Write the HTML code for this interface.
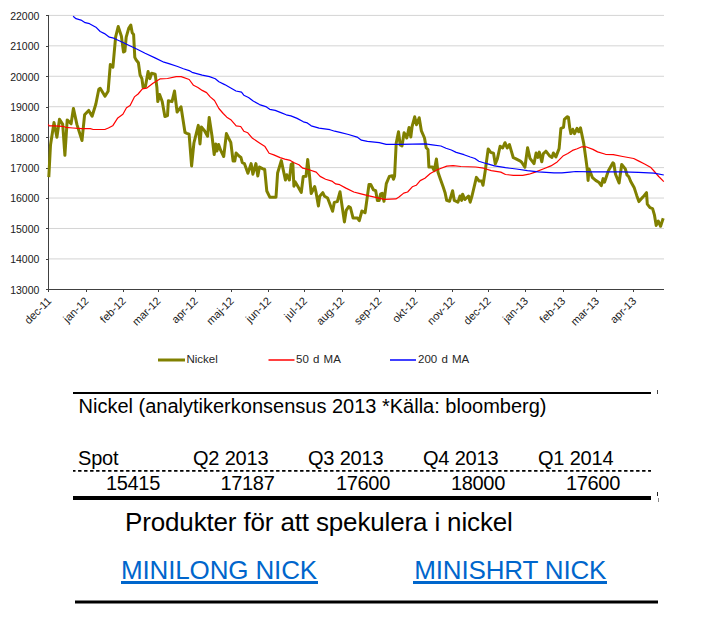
<!DOCTYPE html>
<html><head><meta charset="utf-8"><style>
html,body{margin:0;padding:0;background:#fff;}
body{width:702px;height:622px;overflow:hidden;}
svg{display:block;}
.ax{font-family:"Liberation Sans",sans-serif;font-size:10.5px;fill:#1a1a1a;}
.xl{font-family:"Liberation Sans",sans-serif;font-size:11px;fill:#1a1a1a;}
.lg{font-family:"Liberation Sans",sans-serif;font-size:11.5px;fill:#262626;word-spacing:1px;}
.tt{font-family:"Liberation Sans",sans-serif;font-size:20px;fill:#000;}
.big{font-family:"Liberation Sans",sans-serif;font-size:26px;fill:#000;letter-spacing:-0.15px;}
.lnk{fill:#0066cc;}
</style></head><body>
<svg width="702" height="622" viewBox="0 0 702 622">
<line x1="48" y1="15.40" x2="664" y2="15.40" stroke="#d4d4d4" stroke-width="1"/>
<line x1="48" y1="45.84" x2="664" y2="45.84" stroke="#d4d4d4" stroke-width="1"/>
<line x1="48" y1="76.28" x2="664" y2="76.28" stroke="#d4d4d4" stroke-width="1"/>
<line x1="48" y1="106.72" x2="664" y2="106.72" stroke="#d4d4d4" stroke-width="1"/>
<line x1="48" y1="137.16" x2="664" y2="137.16" stroke="#d4d4d4" stroke-width="1"/>
<line x1="48" y1="167.60" x2="664" y2="167.60" stroke="#d4d4d4" stroke-width="1"/>
<line x1="48" y1="198.04" x2="664" y2="198.04" stroke="#d4d4d4" stroke-width="1"/>
<line x1="48" y1="228.48" x2="664" y2="228.48" stroke="#d4d4d4" stroke-width="1"/>
<line x1="48" y1="258.92" x2="664" y2="258.92" stroke="#d4d4d4" stroke-width="1"/>
<line x1="48.5" y1="15" x2="48.5" y2="292" stroke="#404040" stroke-width="1"/>
<line x1="46" y1="289.5" x2="664" y2="289.5" stroke="#404040" stroke-width="1"/>
<line x1="46" y1="15.5" x2="48" y2="15.5" stroke="#404040" stroke-width="1"/>
<line x1="46" y1="46.5" x2="48" y2="46.5" stroke="#404040" stroke-width="1"/>
<line x1="46" y1="76.5" x2="48" y2="76.5" stroke="#404040" stroke-width="1"/>
<line x1="46" y1="107.5" x2="48" y2="107.5" stroke="#404040" stroke-width="1"/>
<line x1="46" y1="137.5" x2="48" y2="137.5" stroke="#404040" stroke-width="1"/>
<line x1="46" y1="168.5" x2="48" y2="168.5" stroke="#404040" stroke-width="1"/>
<line x1="46" y1="198.5" x2="48" y2="198.5" stroke="#404040" stroke-width="1"/>
<line x1="46" y1="228.5" x2="48" y2="228.5" stroke="#404040" stroke-width="1"/>
<line x1="46" y1="259.5" x2="48" y2="259.5" stroke="#404040" stroke-width="1"/>
<line x1="86.5" y1="289.5" x2="86.5" y2="292" stroke="#404040" stroke-width="1"/>
<line x1="123.5" y1="289.5" x2="123.5" y2="292" stroke="#404040" stroke-width="1"/>
<line x1="158.5" y1="289.5" x2="158.5" y2="292" stroke="#404040" stroke-width="1"/>
<line x1="195.5" y1="289.5" x2="195.5" y2="292" stroke="#404040" stroke-width="1"/>
<line x1="231.5" y1="289.5" x2="231.5" y2="292" stroke="#404040" stroke-width="1"/>
<line x1="268.5" y1="289.5" x2="268.5" y2="292" stroke="#404040" stroke-width="1"/>
<line x1="304.5" y1="289.5" x2="304.5" y2="292" stroke="#404040" stroke-width="1"/>
<line x1="342.5" y1="289.5" x2="342.5" y2="292" stroke="#404040" stroke-width="1"/>
<line x1="379.5" y1="289.5" x2="379.5" y2="292" stroke="#404040" stroke-width="1"/>
<line x1="415.5" y1="289.5" x2="415.5" y2="292" stroke="#404040" stroke-width="1"/>
<line x1="452.5" y1="289.5" x2="452.5" y2="292" stroke="#404040" stroke-width="1"/>
<line x1="488.5" y1="289.5" x2="488.5" y2="292" stroke="#404040" stroke-width="1"/>
<line x1="525.5" y1="289.5" x2="525.5" y2="292" stroke="#404040" stroke-width="1"/>
<line x1="563.5" y1="289.5" x2="563.5" y2="292" stroke="#404040" stroke-width="1"/>
<line x1="596.5" y1="289.5" x2="596.5" y2="292" stroke="#404040" stroke-width="1"/>
<line x1="633.5" y1="289.5" x2="633.5" y2="292" stroke="#404040" stroke-width="1"/>
<text x="39.4" y="19.7" text-anchor="end" class="ax">22000</text>
<text x="39.4" y="50.1" text-anchor="end" class="ax">21000</text>
<text x="39.4" y="80.6" text-anchor="end" class="ax">20000</text>
<text x="39.4" y="111.0" text-anchor="end" class="ax">19000</text>
<text x="39.4" y="141.5" text-anchor="end" class="ax">18000</text>
<text x="39.4" y="171.9" text-anchor="end" class="ax">17000</text>
<text x="39.4" y="202.3" text-anchor="end" class="ax">16000</text>
<text x="39.4" y="232.8" text-anchor="end" class="ax">15000</text>
<text x="39.4" y="263.2" text-anchor="end" class="ax">14000</text>
<text x="39.4" y="293.7" text-anchor="end" class="ax">13000</text>
<text x="52.1" y="301.6" text-anchor="end" class="xl" transform="rotate(-45 52.1 301.6)">dec-11</text>
<text x="89.3" y="301.6" text-anchor="end" class="xl" transform="rotate(-45 89.3 301.6)">jan-12</text>
<text x="126.6" y="301.6" text-anchor="end" class="xl" transform="rotate(-45 126.6 301.6)">feb-12</text>
<text x="161.4" y="301.6" text-anchor="end" class="xl" transform="rotate(-45 161.4 301.6)">mar-12</text>
<text x="198.6" y="301.6" text-anchor="end" class="xl" transform="rotate(-45 198.6 301.6)">apr-12</text>
<text x="234.7" y="301.6" text-anchor="end" class="xl" transform="rotate(-45 234.7 301.6)">maj-12</text>
<text x="271.9" y="301.6" text-anchor="end" class="xl" transform="rotate(-45 271.9 301.6)">jun-12</text>
<text x="307.9" y="301.6" text-anchor="end" class="xl" transform="rotate(-45 307.9 301.6)">jul-12</text>
<text x="345.1" y="301.6" text-anchor="end" class="xl" transform="rotate(-45 345.1 301.6)">aug-12</text>
<text x="382.4" y="301.6" text-anchor="end" class="xl" transform="rotate(-45 382.4 301.6)">sep-12</text>
<text x="418.4" y="301.6" text-anchor="end" class="xl" transform="rotate(-45 418.4 301.6)">okt-12</text>
<text x="455.6" y="301.6" text-anchor="end" class="xl" transform="rotate(-45 455.6 301.6)">nov-12</text>
<text x="491.7" y="301.6" text-anchor="end" class="xl" transform="rotate(-45 491.7 301.6)">dec-12</text>
<text x="528.9" y="301.6" text-anchor="end" class="xl" transform="rotate(-45 528.9 301.6)">jan-13</text>
<text x="566.1" y="301.6" text-anchor="end" class="xl" transform="rotate(-45 566.1 301.6)">feb-13</text>
<text x="599.8" y="301.6" text-anchor="end" class="xl" transform="rotate(-45 599.8 301.6)">mar-13</text>
<text x="637.0" y="301.6" text-anchor="end" class="xl" transform="rotate(-45 637.0 301.6)">apr-13</text>
<polyline points="48.8,177.2 50.5,145 54,122.5 56.9,137.3 59.5,119.3 62.7,124.4 64.9,155.3 67.2,119.9 71.1,123.8 73.4,108.4 76.9,124.4 82,140.5 84.6,114.8 88.7,110.4 92.1,116.2 95.8,104.2 98.8,89.2 100.2,88.3 105,96.3 108.1,91.3 110.3,64.5 112.9,67.1 115.6,37.1 118.2,26.5 121.4,36.2 123.5,52.1 124.9,51.2 126.2,37.1 128.7,28.3 130.8,25 132.2,32.7 133.6,34.4 134.8,57.4 136.2,60 138.4,62.7 140.1,75 141.9,78.6 143.1,87.4 145.4,86.6 148.1,71.5 149.9,78.6 151.6,73.3 155.2,74.2 156.9,87.4 157.8,101.6 159.6,94.5 162.2,101.6 164.9,116.6 167.5,115.7 168.4,100.7 172,101.6 174.5,91 177.1,112.1 181,106.8 185,132.4 186.8,133.3 189.1,134.2 191.6,166 193.9,143 198.3,125.4 200,143.9 201.4,127.1 204.5,130.7 207.6,136.3 209.2,117.4 212,136 214.2,154.5 215.8,144 217,151 218.6,144.5 220.7,150.4 223.7,156.5 226.4,133.6 228.5,138 230.8,142.4 233.1,161 234.8,161 236.1,153 238.7,155.7 240.9,157.4 242.3,162.7 244.4,163.6 247.9,173.3 251.1,163.6 252.9,174.2 255.9,163.6 257.8,176 259.5,167 262.4,168.6 264.7,169.5 266.8,191 269.8,197.2 276,197.2 277.6,173 281.3,160.6 285.4,180 286.8,174.8 289.4,180 291.2,164.2 292.8,163.3 293.9,186.3 295.1,181.8 297.8,186.3 301.3,192.4 303.2,176.6 306,176.3 307.7,159.5 309.1,171.5 311.2,193.6 314.7,186.5 316.1,192.7 318.4,206 319.7,196.3 322.8,192.7 324.6,196.3 327.6,198 332.6,211.3 334.3,202.4 337.3,201.6 340,191.8 344.4,221.9 346.2,210.4 348.7,206.6 350.4,207.5 353.1,218.1 357.5,218.1 359.3,220.7 361.9,211 363.7,211.9 365.1,212.8 369,184.5 370.7,184.5 373.4,189.8 375.7,190.7 377.4,200.4 379.2,200.4 380.5,194.2 382.2,193.3 384,201.3 386.3,183.6 389.3,176.5 392.3,175.7 393.5,179.3 394.6,176 396.2,143.3 398.5,131.8 400.2,145 402,145.9 404.1,132.7 406.8,138 409.1,127.4 410.8,137.1 412.1,126.5 414.7,116.8 416.5,124.7 419.2,117.7 421.4,130.9 424.5,138 426.2,147.7 428,149.5 428.9,167.1 432.4,167.1 434.2,170.7 436.4,159 438,172.2 440.7,180.1 443.2,187.1 445,192.4 446.7,200.4 449.5,201.3 452.6,190.7 454.3,200.4 457.9,202.2 460,196 461.7,200.4 462.6,194.2 464.9,199.5 468.5,196 470.2,202.2 472,196 476.4,177.4 479.1,181 481.7,181 483,185.2 485.1,171.8 488.2,148.9 490.7,152.4 493.5,153.3 495.3,163.9 497.4,158.6 500.1,146.2 502.7,148 505,142.7 507.2,148 509.4,144.5 511.2,150.6 513.3,157.7 515.5,158.6 520.4,161.2 522,162.7 524.9,167.3 527.6,147.8 530,158.3 534,163.6 536.1,153 537.9,157.4 539.3,152.1 541.8,161.8 543.2,153.9 545.9,151.2 549.4,155.7 552,157.4 553.4,153 555.9,156.9 559.1,148.6 560.9,128.3 563.5,127.4 564.4,119.4 567.1,116.8 568.4,117.2 569.8,128.3 570.9,133.6 572.7,129.2 574.5,133.6 577,128.3 578.7,131.8 580.5,127.9 583.7,143.3 585.8,158.3 587.2,168.9 588.1,180.4 589,168.9 592.5,177.7 595.7,180.4 598.7,182.2 601.3,185.7 603.1,178.6 604.5,182.2 608.4,170.7 612.9,162.7 613.8,163.6 615.5,174.2 619.1,183 621.7,164.5 625.3,168.9 627,175 628.8,176.8 630.6,181.2 634.1,187.4 636.7,195.4 638.9,201.6 642.9,197.1 646.5,192.7 647.3,204.2 650,207.7 652.6,208.6 654.4,214.8 656.2,225.4 658.3,221 660.6,226.3 663.2,218.3" fill="none" stroke="#808000" stroke-width="3" stroke-linejoin="round"/>
<polyline points="48.3,124.4 49.1,125.8 54.1,125.8 62.8,126.3 65.7,127.3 72.9,128 81.6,128.7 90.3,128.7 93.2,129.5 104.8,129.5 108.4,128 112.7,125.8 117.8,117.9 122.9,114.3 126.5,107.8 130.1,105.6 134.4,96.9 138.1,94 142.4,88.9 146.5,88.2 153,83.2 160.3,78.8 167.5,78.5 176.2,76.6 181.2,76.6 189.2,79.5 193.5,85.3 197.9,87.5 202.2,90.4 206.6,92.6 210.2,96.9 214.5,100.5 218.9,108.5 223.2,113.5 226.8,117.2 231.2,120.1 236.2,125.8 240.7,126.5 243.8,131.2 247.8,132.8 252.5,138.3 259.5,143 265,146.6 269.1,153.3 273.8,154.9 280.1,157.6 284.8,159.1 290.3,160.4 294.2,162.7 298.9,164.8 302.8,168.2 308.3,169.5 316.2,172.1 320.1,176.4 325.6,179.2 331.8,181.1 335.7,183.9 339.7,184.7 345.9,188.1 353.8,192 360,193.6 367.9,195.6 377.8,197.8 384.1,199.4 395.9,198.9 399,197 403.7,193.1 407.6,192 412.3,186.8 416.2,185.3 420.2,180.6 424.9,178.2 430.3,173.5 435.8,170.4 440.5,168.5 446.8,166.1 453.1,165.7 460.9,166.5 475.7,167 483.5,168.2 491.3,170.6 500.8,172.1 505.5,174.5 513.3,175.3 522.7,175.3 529,174.2 535.2,172.1 543.1,169 550.9,165.9 557.2,161.9 563.4,155.7 567.8,153.5 572.5,150.4 577.2,148.8 581.9,146.8 585.9,146.8 592.9,149.4 597.6,151.9 605.5,154.3 613.3,154.6 622.7,156.5 633.7,158.5 638.4,160.9 644.6,164 650.9,167.6 654,171 658.7,176.5 663.8,181.7" fill="none" stroke="#ff0000" stroke-width="1.2" stroke-linejoin="round"/>
<polyline points="73.1,16.3 76,18.7 81,20.1 85.2,22.7 89.5,23.7 95.9,27.2 100.2,31.5 104.5,33.6 109.4,37.2 113.7,38.2 123,42.5 128.7,45.3 137.2,49.3 145.1,53.3 155,57.9 163.9,62.2 168.9,63.6 177.6,66.5 183.4,68.7 189.9,70.9 192.1,72.3 202.2,75.2 209.5,76.6 215.3,78.8 218.9,81.7 224.7,84.6 231.2,88.2 236,91 241.5,92.1 243.8,95.2 248.5,97.5 253.2,101.1 259.5,104.6 265.8,106.6 269.7,109.3 275.2,110.4 281.5,112.9 286.2,114.8 290.9,115.9 297.1,118.4 303.4,121.8 307.3,122.9 311.2,125.8 319.1,128.1 330,129.7 334.7,131.2 340,132.3 348.5,134.5 357.1,137.1 361.4,140.2 367.4,141.4 379.3,142.7 386.2,144.4 399.8,144.4 425.5,143.9 432.3,144.8 440.9,146 446,148.2 451.3,150 456.2,152.4 464,154.7 470.3,157 474.9,158.5 478.8,161.2 485.1,163.2 494.5,165.9 505.5,167.7 516.4,169 527.4,170.6 538.4,171.8 554,172.9 561.9,172.9 570,172.1 575.7,171.5 591.3,171.8 622.7,171.8 638.4,172.3 654,173.1 663.8,175" fill="none" stroke="#0000ff" stroke-width="1.2" stroke-linejoin="round"/>
<line x1="158" y1="360" x2="185" y2="360" stroke="#808000" stroke-width="3"/>
<text x="186.5" y="362.5" class="lg">Nickel</text>
<line x1="268.5" y1="360" x2="294.5" y2="360" stroke="#ff0000" stroke-width="1.5"/>
<text x="296" y="362.5" class="lg">50 d MA</text>
<line x1="390" y1="360" x2="416" y2="360" stroke="#0000ff" stroke-width="1.5"/>
<text x="418" y="362.5" class="lg">200 d MA</text>
<rect x="73" y="392" width="578" height="2" fill="#000"/>
<line x1="73" y1="470.8" x2="651" y2="470.8" stroke="#000" stroke-width="1.7" stroke-dasharray="3.4 2.6" stroke-dashoffset="0.9"/>
<rect x="73" y="496" width="578" height="4" fill="#000"/>
<rect x="657" y="390" width="1" height="4" fill="#444"/>
<rect x="657" y="492" width="1" height="4" fill="#222"/>
<rect x="658" y="498" width="1" height="4" fill="#888"/>
<text x="78.5" y="413.2" class="tt">Nickel (analytikerkonsensus 2013 *Källa: bloomberg)</text>
<text x="78" y="464.9" class="tt" letter-spacing="-0.2">Spot</text>
<text x="193" y="464.9" class="tt" letter-spacing="-0.2">Q2 2013</text>
<text x="308" y="464.9" class="tt" letter-spacing="-0.2">Q3 2013</text>
<text x="423" y="464.9" class="tt" letter-spacing="-0.2">Q4 2013</text>
<text x="538" y="464.9" class="tt" letter-spacing="-0.2">Q1 2014</text>
<text x="160" y="490.2" text-anchor="end" class="tt" letter-spacing="-0.3">15415</text>
<text x="274.5" y="490.2" text-anchor="end" class="tt" letter-spacing="-0.3">17187</text>
<text x="390" y="490.2" text-anchor="end" class="tt" letter-spacing="-0.3">17600</text>
<text x="505" y="490.2" text-anchor="end" class="tt" letter-spacing="-0.3">18000</text>
<text x="620" y="490.2" text-anchor="end" class="tt" letter-spacing="-0.3">17600</text>
<text x="125" y="531" class="big">Produkter för att spekulera i nickel</text>
<text x="121" y="579" class="big lnk" letter-spacing="-0.08">MINILONG NICK</text>
<rect x="121" y="581" width="197" height="3" fill="#0066cc"/>
<text x="414.2" y="579" class="big lnk" letter-spacing="-0.08">MINISHRT NICK</text>
<rect x="413" y="581" width="194" height="3" fill="#0066cc"/>
<rect x="75" y="600.5" width="583" height="3" fill="#000"/>
</svg>
</body></html>
